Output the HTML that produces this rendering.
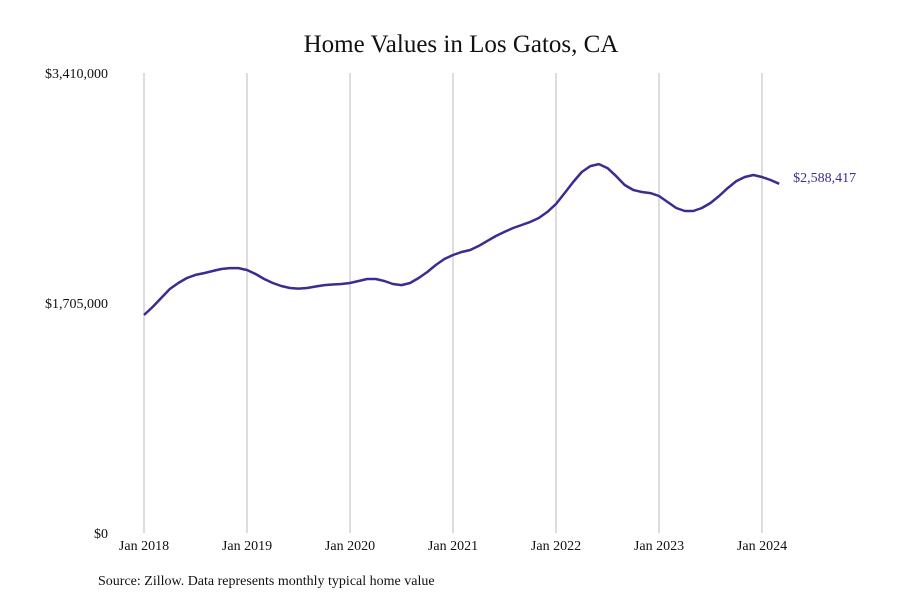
<!DOCTYPE html>
<html><head><meta charset="utf-8"><style>
body{margin:0;background:#fff;}
svg{display:block;font-family:"Liberation Serif",serif;}
</style></head><body>
<svg id="chart" width="900" height="600">
<rect width="900" height="600" fill="#fff"/>
<text x="461" y="52" text-anchor="middle" font-size="25" fill="#111">Home Values in Los Gatos, CA</text>
<g id="grid"></g><g id="yticks"></g><g id="xticks"></g>
<path id="line" fill="none" stroke="#3a2d8f" stroke-width="2.5" stroke-linejoin="round"/>
<text id="endlabel" font-size="14" fill="#3a2d8f"></text>
<text x="98" y="585" font-size="14" fill="#111">Source: Zillow. Data represents monthly typical home value</text>
</svg>
<script>
const yearLabels = ["Jan 2018","Jan 2019","Jan 2020","Jan 2021","Jan 2022","Jan 2023","Jan 2024"];
const yTickValues = [0, 1705000, 3410000];
const yTickLabels = ["$0","$1,705,000","$3,410,000"];
const values = [
1.616,1.675,1.742,1.809,1.853,1.89,1.913,1.927,1.942,1.957,1.964,1.964,
1.95,1.92,1.883,1.853,1.831,1.816,1.812,1.816,1.827,1.838,1.842,1.846,
1.853,1.868,1.883,1.883,1.868,1.846,1.838,1.853,1.89,1.935,1.987,2.031,
2.061,2.083,2.098,2.128,2.165,2.202,2.232,2.261,2.283,2.306,2.335,2.38,
2.439,2.52,2.602,2.676,2.72,2.735,2.705,2.646,2.58,2.543,2.528,2.52,
2.498,2.454,2.409,2.387,2.387,2.409,2.446,2.498,2.557,2.609,2.639,2.654,
2.639,2.617,2.588417].map(v=>v*1e6);
const lastLabel = "$2,588,417";

const NS="http://www.w3.org/2000/svg";
const x0=144, yearW=103, yBase=533, yTop=73, yMax=3410000;
const xS = m => x0 + m*yearW/12;
const yS = v => yBase - v/yMax*(yBase-yTop);
const grid=document.getElementById('grid'), xt=document.getElementById('xticks'), yt=document.getElementById('yticks');
yearLabels.forEach((l,i)=>{
  const x=xS(i*12);
  const ln=document.createElementNS(NS,'line');
  ln.setAttribute('x1',x);ln.setAttribute('x2',x);ln.setAttribute('y1',yTop);ln.setAttribute('y2',yBase);
  ln.setAttribute('stroke','#bbb');ln.setAttribute('stroke-width','1');
  
  
  grid.appendChild(ln);
  const t=document.createElementNS(NS,'text');
  t.setAttribute('x',x);t.setAttribute('y',550);t.setAttribute('text-anchor','middle');t.setAttribute('font-size','14');t.setAttribute('fill','#111');
  t.textContent=l;
  
  
  xt.appendChild(t);
});
yTickValues.forEach((v,i)=>{
  const t=document.createElementNS(NS,'text');
  t.setAttribute('x',108);t.setAttribute('y',yS(v)+5);t.setAttribute('text-anchor','end');t.setAttribute('font-size','14');t.setAttribute('fill','#111');
  t.textContent=yTickLabels[i];
  
  
  yt.appendChild(t);
});
let d='';
values.forEach((v,i)=>{d+=(i?'L':'M')+xS(i).toFixed(1)+' '+yS(v).toFixed(1);});
document.getElementById('line').setAttribute('d',d);
const el=document.getElementById('endlabel');
const li=values.length-1;
el.setAttribute('x',xS(li)+14);el.setAttribute('y',yS(values[li])-2);
el.textContent=lastLabel;
</script>
</body></html>
